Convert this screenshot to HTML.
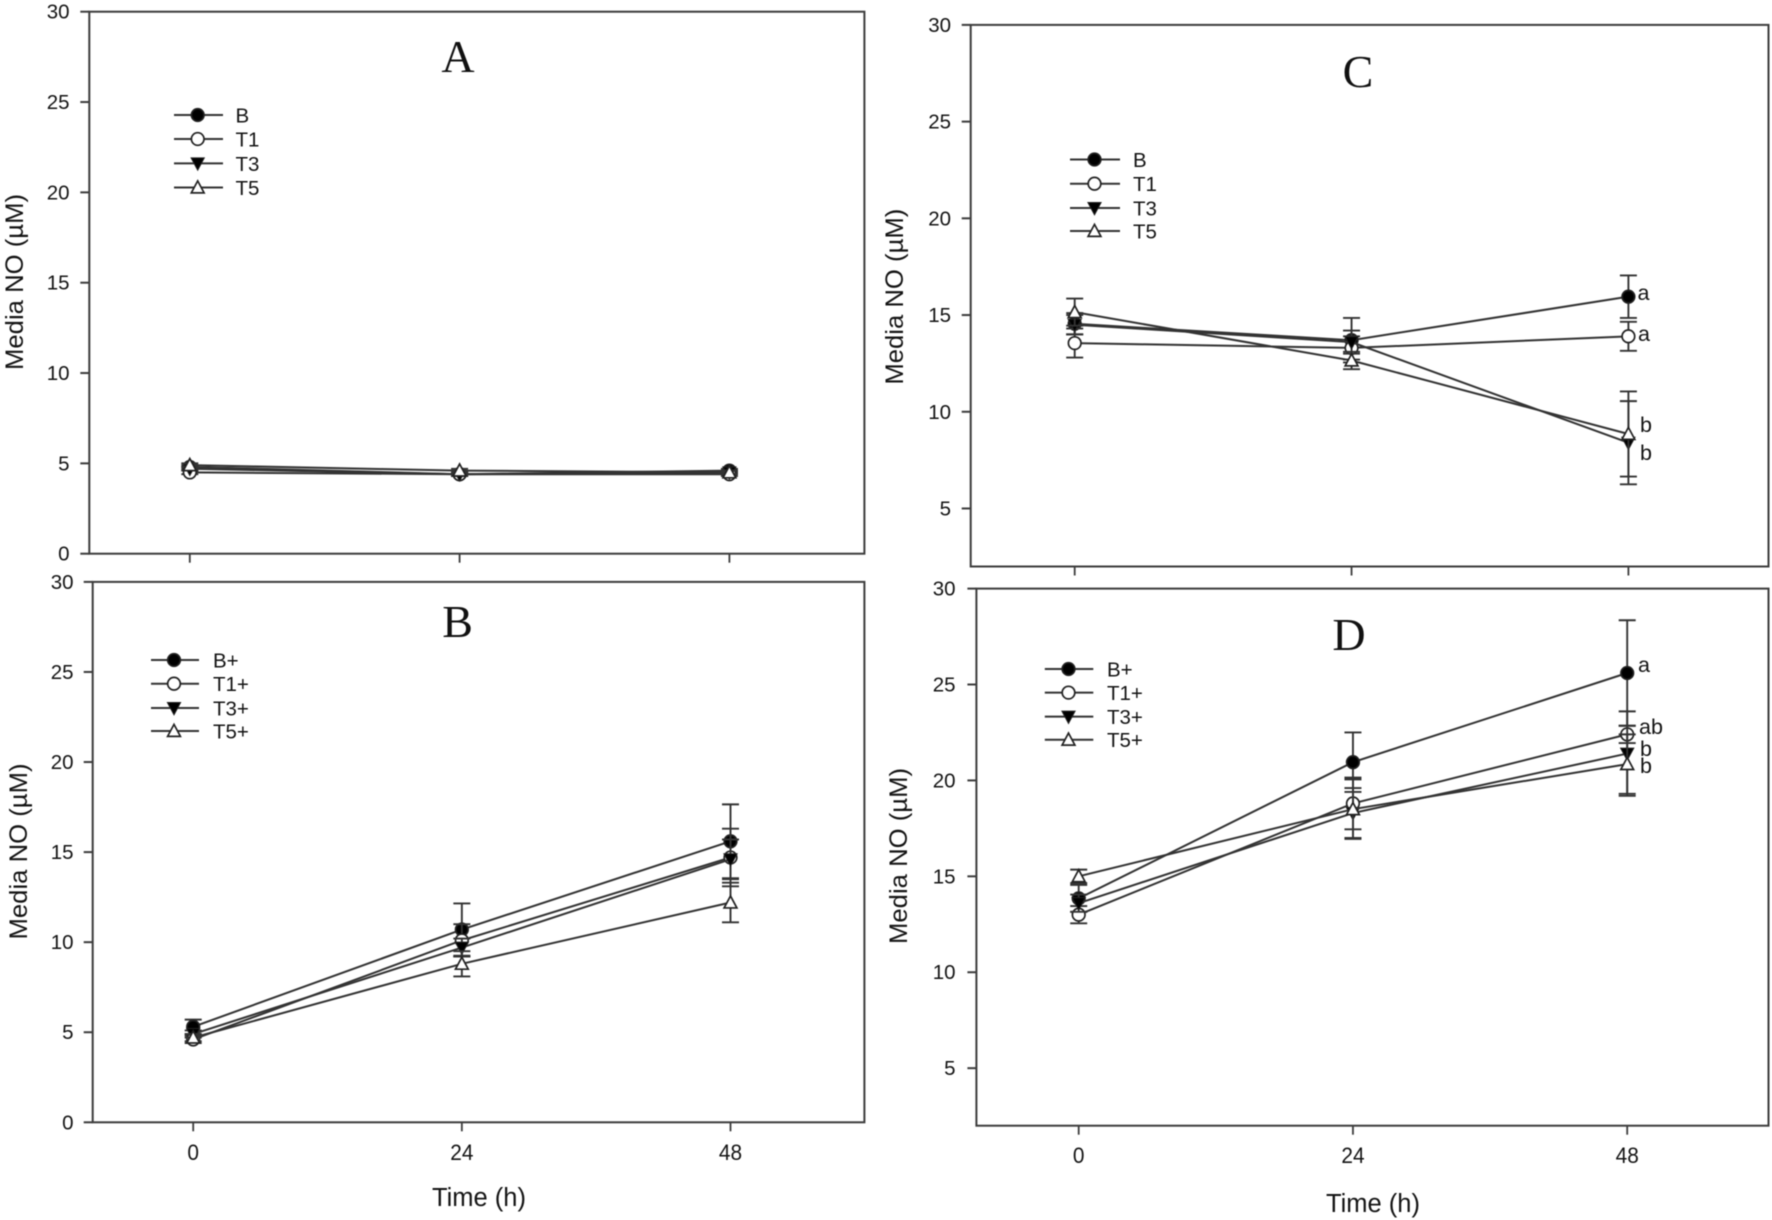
<!DOCTYPE html>
<html lang="en">
<head>
<meta charset="utf-8">
<title>Media NO over time</title>
<style>
html,body{margin:0;padding:0;background:#fff;}
svg{display:block;filter:blur(0.45px);}
text{font-family:"Liberation Sans",sans-serif;fill:#141414;}
.serif{font-family:"Liberation Serif",serif;fill:#111;}
</style>
</head>
<body>
<svg id="fig" xmlns="http://www.w3.org/2000/svg" width="1772" height="1220" viewBox="0 0 1772 1220"></svg>
<script>
// Shared categories and tick labels
const timeHours = [0, 24, 48];
const yTicksFull = [0, 5, 10, 15, 20, 25, 30];
const yTicksCut = [5, 10, 15, 20, 25, 30];

// Panel A
const aB = [4.8, 4.4, 4.6];
const aT1 = [4.5, 4.4, 4.4];
const aT3 = [4.7, 4.4, 4.5];
const aT5 = [4.9, 4.6, 4.5];
const aBErr = [0.1, 0.1, 0.1];
const aT1Err = [0.1, 0.1, 0.1];
const aT3Err = [0.1, 0.1, 0.1];
const aT5Err = [0.1, 0.1, 0.1];

// Panel B
const bB = [5.3, 10.7, 15.6];
const bT1 = [4.6, 10.1, 14.7];
const bT3 = [4.9, 9.7, 14.6];
const bT5 = [4.7, 8.8, 12.2];
const bBErr = [0.4, 1.45, 2.05];
const bT1Err = [0.2, 0.9, 1.6];
const bT3Err = [0.2, 0.5, 1.1];
const bT5Err = [0.2, 0.7, 1.1];

// Panel C
const cB = [14.55, 13.7, 15.95];
const cT1 = [13.55, 13.3, 13.9];
const cT3 = [14.5, 13.6, 8.4];
const cT5 = [15.15, 12.65, 8.85];
const cBErr = [0.55, 1.15, 1.1];
const cT1Err = [0.75, 0.6, 0.75];
const cT3Err = [0.5, 0.6, 2.15];
const cT5Err = [0.7, 0.45, 2.2];

// Panel D
const dB = [13.85, 20.95, 25.6];
const dT1 = [13.0, 18.8, 22.4];
const dT3 = [13.6, 18.3, 21.4];
const dT5 = [15.0, 18.5, 20.85];
const dBErr = [0.7, 1.55, 2.75];
const dT1Err = [0.45, 1.35, 0.45];
const dT3Err = [0.45, 1.3, 2.2];
const dT5Err = [0.35, 1.55, 1.55];

const seriesKinds = ["circle-filled", "circle-open", "triangle-down", "triangle-up"];

const panels = [
  {key:"a", title:"A", L:89.3, R:864.4, T:11.7, B:553.7, x0:189.8, x48:729.4, ymin:0, ticks:yTicksFull, xLabels:false,
   titleX:458, titleY:72, ylabX:23, ylabY:282, tickRight:69.5,
   names:["B","T1","T3","T5"], vals:[aB,aT1,aT3,aT5], errs:[aBErr,aT1Err,aT3Err,aT5Err],
   legLine:[174,223], legMark:197.7, legText:235.5, legY:[115,139,163.4,187.5], notes:[]},
  {key:"b", title:"B", L:92.7, R:864.4, T:581.9, B:1122.3, x0:193.2, x48:730.5, ymin:0, ticks:yTicksFull, xLabels:true,
   titleX:457.6, titleY:637, ylabX:27, ylabY:851.5, tickRight:73.5, tickLabelY:1160, timeX:479, timeY:1206,
   names:["B+","T1+","T3+","T5+"], vals:[bB,bT1,bT3,bT5], errs:[bBErr,bT1Err,bT3Err,bT5Err],
   legLine:[151,199], legMark:174, legText:213, legY:[660,683.7,708,731], notes:[]},
  {key:"c", title:"C", L:970.7, R:1768.5, T:24.9, B:566.5, x0:1074.7, x48:1628.4, ymin:2, ticks:yTicksCut, xLabels:false,
   titleX:1358, titleY:87, ylabX:903, ylabY:296.7, tickRight:951,
   names:["B","T1","T3","T5"], vals:[cB,cT1,cT3,cT5], errs:[cBErr,cT1Err,cT3Err,cT5Err],
   legLine:[1070,1120], legMark:1094.5, legText:1133, legY:[159.5,183.7,208,231],
   notes:[["a",1643.5,300],["a",1644,341],["b",1646,432],["b",1646,460]]},
  {key:"d", title:"D", L:976.4, R:1768.5, T:588.6, B:1125.7, x0:1078.7, x48:1627.2, ymin:2, ticks:yTicksCut, xLabels:true,
   titleX:1349, titleY:650, ylabX:907, ylabY:856, tickRight:955.5, tickLabelY:1163, timeX:1373, timeY:1212,
   names:["B+","T1+","T3+","T5+"], vals:[dB,dT1,dT3,dT5], errs:[dBErr,dT1Err,dT3Err,dT5Err],
   legLine:[1044.8,1093.3], legMark:1068.5, legText:1107, legY:[669,692.6,716.6,739.7],
   notes:[["a",1644,672],["ab",1651,734],["b",1646,756],["b",1646,773]]}
];

const NS = "http://www.w3.org/2000/svg";
const INK = "#333";
const fig = document.getElementById("fig");

function make(tag, attrs, parent) {
  const node = document.createElementNS(NS, tag);
  for (const k in attrs) node.setAttribute(k, attrs[k]);
  parent.appendChild(node);
  return node;
}

function drawMarker(kind, cx, cy, parent) {
  let m;
  if (kind === "circle-filled" || kind === "circle-open") {
    m = make("circle", {cx:cx, cy:cy, r:6.3, fill:kind === "circle-filled" ? "#000" : "#fff", stroke:"#222", "stroke-width":1.7}, parent);
  } else if (kind === "triangle-down") {
    m = make("polygon", {points:(cx-6.6)+","+(cy-5.5)+" "+(cx+6.6)+","+(cy-5.5)+" "+cx+","+(cy+6.8), fill:"#000", stroke:"#222", "stroke-width":1}, parent);
  } else {
    m = make("polygon", {points:(cx-6.4)+","+(cy+5.4)+" "+(cx+6.4)+","+(cy+5.4)+" "+cx+","+(cy-6.6), fill:"#fff", stroke:"#222", "stroke-width":1.7}, parent);
  }
  return m;
}

panels.forEach(function (p) {
  const g = make("g", {}, fig);
  
  

  const xScale = function (t) { return p.x0 + (t / timeHours[timeHours.length - 1]) * (p.x48 - p.x0); };
  const yScale = function (v) { return p.B - (v - p.ymin) / (30 - p.ymin) * (p.B - p.T); };

  const frame = make("rect", {x:p.L, y:p.T, width:p.R - p.L, height:p.B - p.T, fill:"#fff", stroke:"#3c3c3c", "stroke-width":2}, g);
  
  

  p.ticks.forEach(function (t) {
    const y = yScale(t);
    const tick = make("line", {x1:p.L - 9, x2:p.L, y1:y, y2:y, stroke:"#3c3c3c", "stroke-width":2}, g);
    
    
    const lab = make("text", {x:p.tickRight, y:y + 7, "text-anchor":"end", "font-size":20.5}, g);
    lab.textContent = t;
    
    
  });

  timeHours.forEach(function (t) {
    const x = xScale(t);
    const tick = make("line", {x1:x, x2:x, y1:p.B, y2:p.B + 9, stroke:"#3c3c3c", "stroke-width":1.8}, g);
    
    
    if (p.xLabels) {
      const lab = make("text", {x:x, y:p.tickLabelY, "text-anchor":"middle", "font-size":22, textLength:String(t).length * 11.6, lengthAdjust:"spacingAndGlyphs"}, g);
      lab.textContent = t;
      
      
    }
  });

  const ylab = make("text", {transform:"translate(" + p.ylabX + "," + p.ylabY + ") rotate(-90)", "text-anchor":"middle", "font-size":25, textLength:176, lengthAdjust:"spacingAndGlyphs"}, g);
  ylab.textContent = "Media NO (\u00B5M)";
  
  

  if (p.xLabels) {
    const xlab = make("text", {x:p.timeX, y:p.timeY, "text-anchor":"middle", "font-size":25.5}, g);
    xlab.textContent = "Time (h)";
    
    
  }

  const title = make("text", {x:p.titleX, y:p.titleY, "text-anchor":"middle", "font-size":46, "class":"serif"}, g);
  title.textContent = p.title;
  
  

  // Series: error bars, connecting line and markers
  p.vals.forEach(function (vals, s) {
    const errs = p.errs[s];
    const sg = make("g", {}, g);
    
    
    vals.forEach(function (v, i) {
      const x = xScale(timeHours[i]);
      const hi = yScale(v + errs[i]);
      const lo = yScale(v - errs[i]);
      const bar = make("path", {d:"M" + x + " " + hi + "V" + lo + "M" + (x - 8.5) + " " + hi + "H" + (x + 8.5) + "M" + (x - 8.5) + " " + lo + "H" + (x + 8.5), fill:"none", stroke:INK, "stroke-width":1.9}, sg);
      
      
    });
    const pts = vals.map(function (v, i) { return xScale(timeHours[i]) + "," + yScale(v); }).join(" ");
    const line = make("polyline", {points:pts, fill:"none", stroke:INK, "stroke-width":2}, sg);
    
    
    vals.forEach(function (v, i) {
      const mark = drawMarker(seriesKinds[s], xScale(timeHours[i]), yScale(v), sg);
      
      
    });
  });

  // Significance letters
  p.notes.forEach(function (n) {
    const t = make("text", {x:n[1], y:n[2], "text-anchor":"middle", "font-size":21.5}, g);
    t.textContent = n[0];
    
    
  });

  // Legend
  const leg = make("g", {}, g);
  
  
  p.names.forEach(function (name, s) {
    const y = p.legY[s];
    const entry = make("g", {}, leg);
    
    
    make("line", {x1:p.legLine[0], x2:p.legLine[1], y1:y, y2:y, stroke:INK, "stroke-width":2}, entry);
    drawMarker(seriesKinds[s], p.legMark, y, entry);
    const t = make("text", {x:p.legText, y:y + 7.5, "font-size":20.5}, entry);
    t.textContent = name;
  });
});
</script>
</body>
</html>
